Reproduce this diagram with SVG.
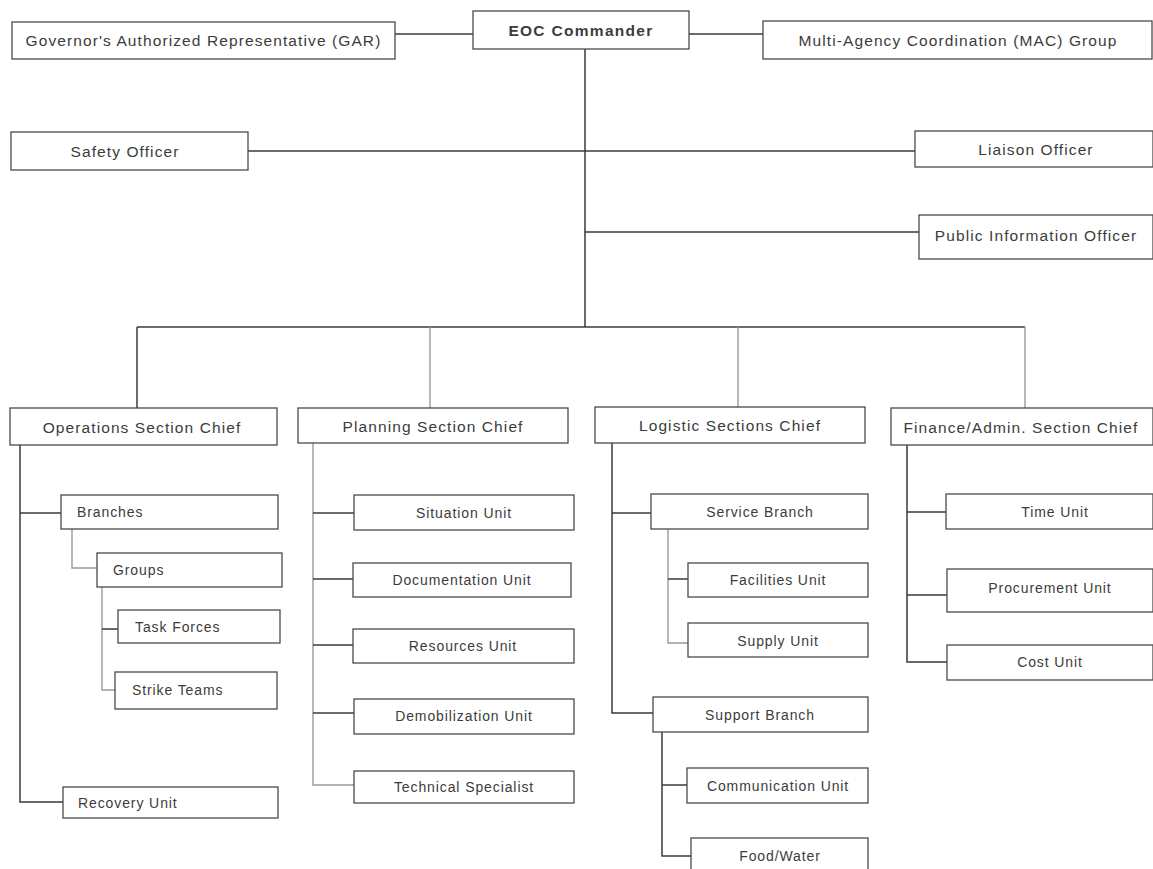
<svg xmlns="http://www.w3.org/2000/svg" width="1153" height="869" viewBox="0 0 1153 869">
<style>
rect{fill:#fff;stroke:#4a4a4a;stroke-width:1.3}
text{font-family:"Liberation Sans",Arial,sans-serif;fill:#3c3c3c;dominant-baseline:central}
.t{font-size:15.5px;letter-spacing:1.1px;text-anchor:middle}
.b{font-weight:bold;letter-spacing:1.3px}
.s{font-size:14px;letter-spacing:0.9px;text-anchor:middle}
.l{text-anchor:start}
.c line,.c path{stroke:#3a3a3a;stroke-width:1.5;fill:none}
.c .g{stroke:#9a9a9a;stroke-width:1.4}
</style>
<rect x="0" y="0" width="1153" height="869" style="fill:#fff;stroke:none"/>
<g class="c" id="connectors">
<line x1="395" y1="34" x2="473" y2="34"/>
<line x1="689" y1="34" x2="763" y2="34"/>
<line x1="585" y1="49" x2="585" y2="327"/>
<line x1="248" y1="151" x2="915" y2="151"/>
<line x1="585" y1="232" x2="919" y2="232"/>
<line x1="137" y1="327" x2="1025" y2="327"/>
<line x1="137" y1="327" x2="137" y2="408"/>
<line x1="430" y1="327" x2="430" y2="408" class="g"/>
<line x1="738" y1="327" x2="738" y2="407" class="g"/>
<line x1="1025" y1="327" x2="1025" y2="408" class="g"/>
<path d="M20 445 V802 H63"/>
<line x1="20" y1="513" x2="61" y2="513"/>
<path d="M72 529 V568 H97" class="g"/>
<path d="M102 587 V690 H115" class="g"/>
<line x1="102" y1="629" x2="118" y2="629"/>
<path d="M313 443 V785 H354" class="g"/>
<line x1="313" y1="513" x2="354" y2="513"/>
<line x1="313" y1="579" x2="353" y2="579"/>
<line x1="313" y1="645" x2="353" y2="645"/>
<line x1="313" y1="713" x2="354" y2="713"/>
<path d="M612 443 V713 H653"/>
<line x1="612" y1="513" x2="651" y2="513"/>
<path d="M668 529 V643 H688" class="g"/>
<line x1="668" y1="579" x2="688" y2="579"/>
<path d="M662 732 V856 H691"/>
<line x1="662" y1="785" x2="687" y2="785"/>
<path d="M907 445 V662 H947"/>
<line x1="907" y1="512" x2="946" y2="512"/>
<line x1="907" y1="595" x2="947" y2="595"/>
</g>
<g id="gar"><rect x="12" y="22" width="383" height="37"/><text class="t" x="203.5" y="40.5">Governor's Authorized Representative (GAR)</text></g>
<g id="eoc"><rect x="473" y="11" width="216" height="38"/><text class="t b" x="581" y="30">EOC Commander</text></g>
<g id="mac"><rect x="763" y="21" width="389" height="38"/><text class="t" x="958" y="40">Multi-Agency Coordination (MAC) Group</text></g>
<g id="safety"><rect x="11" y="132" width="237" height="38"/><text class="t" x="125" y="151">Safety Officer</text></g>
<g id="liaison"><rect x="915" y="131" width="238" height="36"/><text class="t" x="1036" y="149">Liaison Officer</text></g>
<g id="pio"><rect x="919" y="215" width="234" height="44"/><text class="t" x="1036" y="235">Public Information Officer</text></g>
<g id="ops"><rect x="10" y="408" width="267" height="37"/><text class="t" x="142" y="427">Operations Section Chief</text></g>
<g id="planning"><rect x="298" y="408" width="270" height="35"/><text class="t" x="433" y="426">Planning Section Chief</text></g>
<g id="logistic"><rect x="595" y="407" width="270" height="36"/><text class="t" x="730" y="425">Logistic Sections Chief</text></g>
<g id="finance"><rect x="891" y="408" width="262" height="37"/><text class="t" x="1021" y="427">Finance/Admin. Section Chief</text></g>
<g id="branches"><rect x="61" y="495" width="217" height="34"/><text class="s l" x="77" y="512">Branches</text></g>
<g id="groups"><rect x="97" y="553" width="185" height="34"/><text class="s l" x="113" y="570">Groups</text></g>
<g id="taskforces"><rect x="118" y="610" width="162" height="33"/><text class="s l" x="135" y="627">Task Forces</text></g>
<g id="striketeams"><rect x="115" y="672" width="162" height="37"/><text class="s l" x="132" y="690">Strike Teams</text></g>
<g id="recovery"><rect x="63" y="787" width="215" height="31"/><text class="s l" x="78" y="803">Recovery Unit</text></g>
<g id="situation"><rect x="354" y="495" width="220" height="35"/><text class="s" x="464" y="513">Situation Unit</text></g>
<g id="documentation"><rect x="353" y="563" width="218" height="34"/><text class="s" x="462" y="580">Documentation Unit</text></g>
<g id="resources"><rect x="353" y="629" width="221" height="34"/><text class="s" x="463" y="646">Resources Unit</text></g>
<g id="demob"><rect x="354" y="699" width="220" height="35"/><text class="s" x="464" y="716">Demobilization Unit</text></g>
<g id="technical"><rect x="354" y="771" width="220" height="32"/><text class="s" x="464" y="787">Technical Specialist</text></g>
<g id="service"><rect x="651" y="494" width="217" height="35"/><text class="s" x="760" y="512">Service Branch</text></g>
<g id="facilities"><rect x="688" y="563" width="180" height="34"/><text class="s" x="778" y="580">Facilities Unit</text></g>
<g id="supply"><rect x="688" y="623" width="180" height="34"/><text class="s" x="778" y="641">Supply Unit</text></g>
<g id="support"><rect x="653" y="697" width="215" height="35"/><text class="s" x="760" y="715">Support Branch</text></g>
<g id="communication"><rect x="687" y="768" width="181" height="35"/><text class="s" x="778" y="786">Communication Unit</text></g>
<g id="foodwater"><rect x="691" y="838" width="177" height="36"/><text class="s" x="780" y="856">Food/Water</text></g>
<g id="time"><rect x="946" y="494" width="207" height="35"/><text class="s" x="1055" y="512">Time Unit</text></g>
<g id="procurement"><rect x="947" y="569" width="206" height="43"/><text class="s" x="1050" y="588">Procurement Unit</text></g>
<g id="cost"><rect x="947" y="645" width="206" height="35"/><text class="s" x="1050" y="662">Cost Unit</text></g>
</svg>
